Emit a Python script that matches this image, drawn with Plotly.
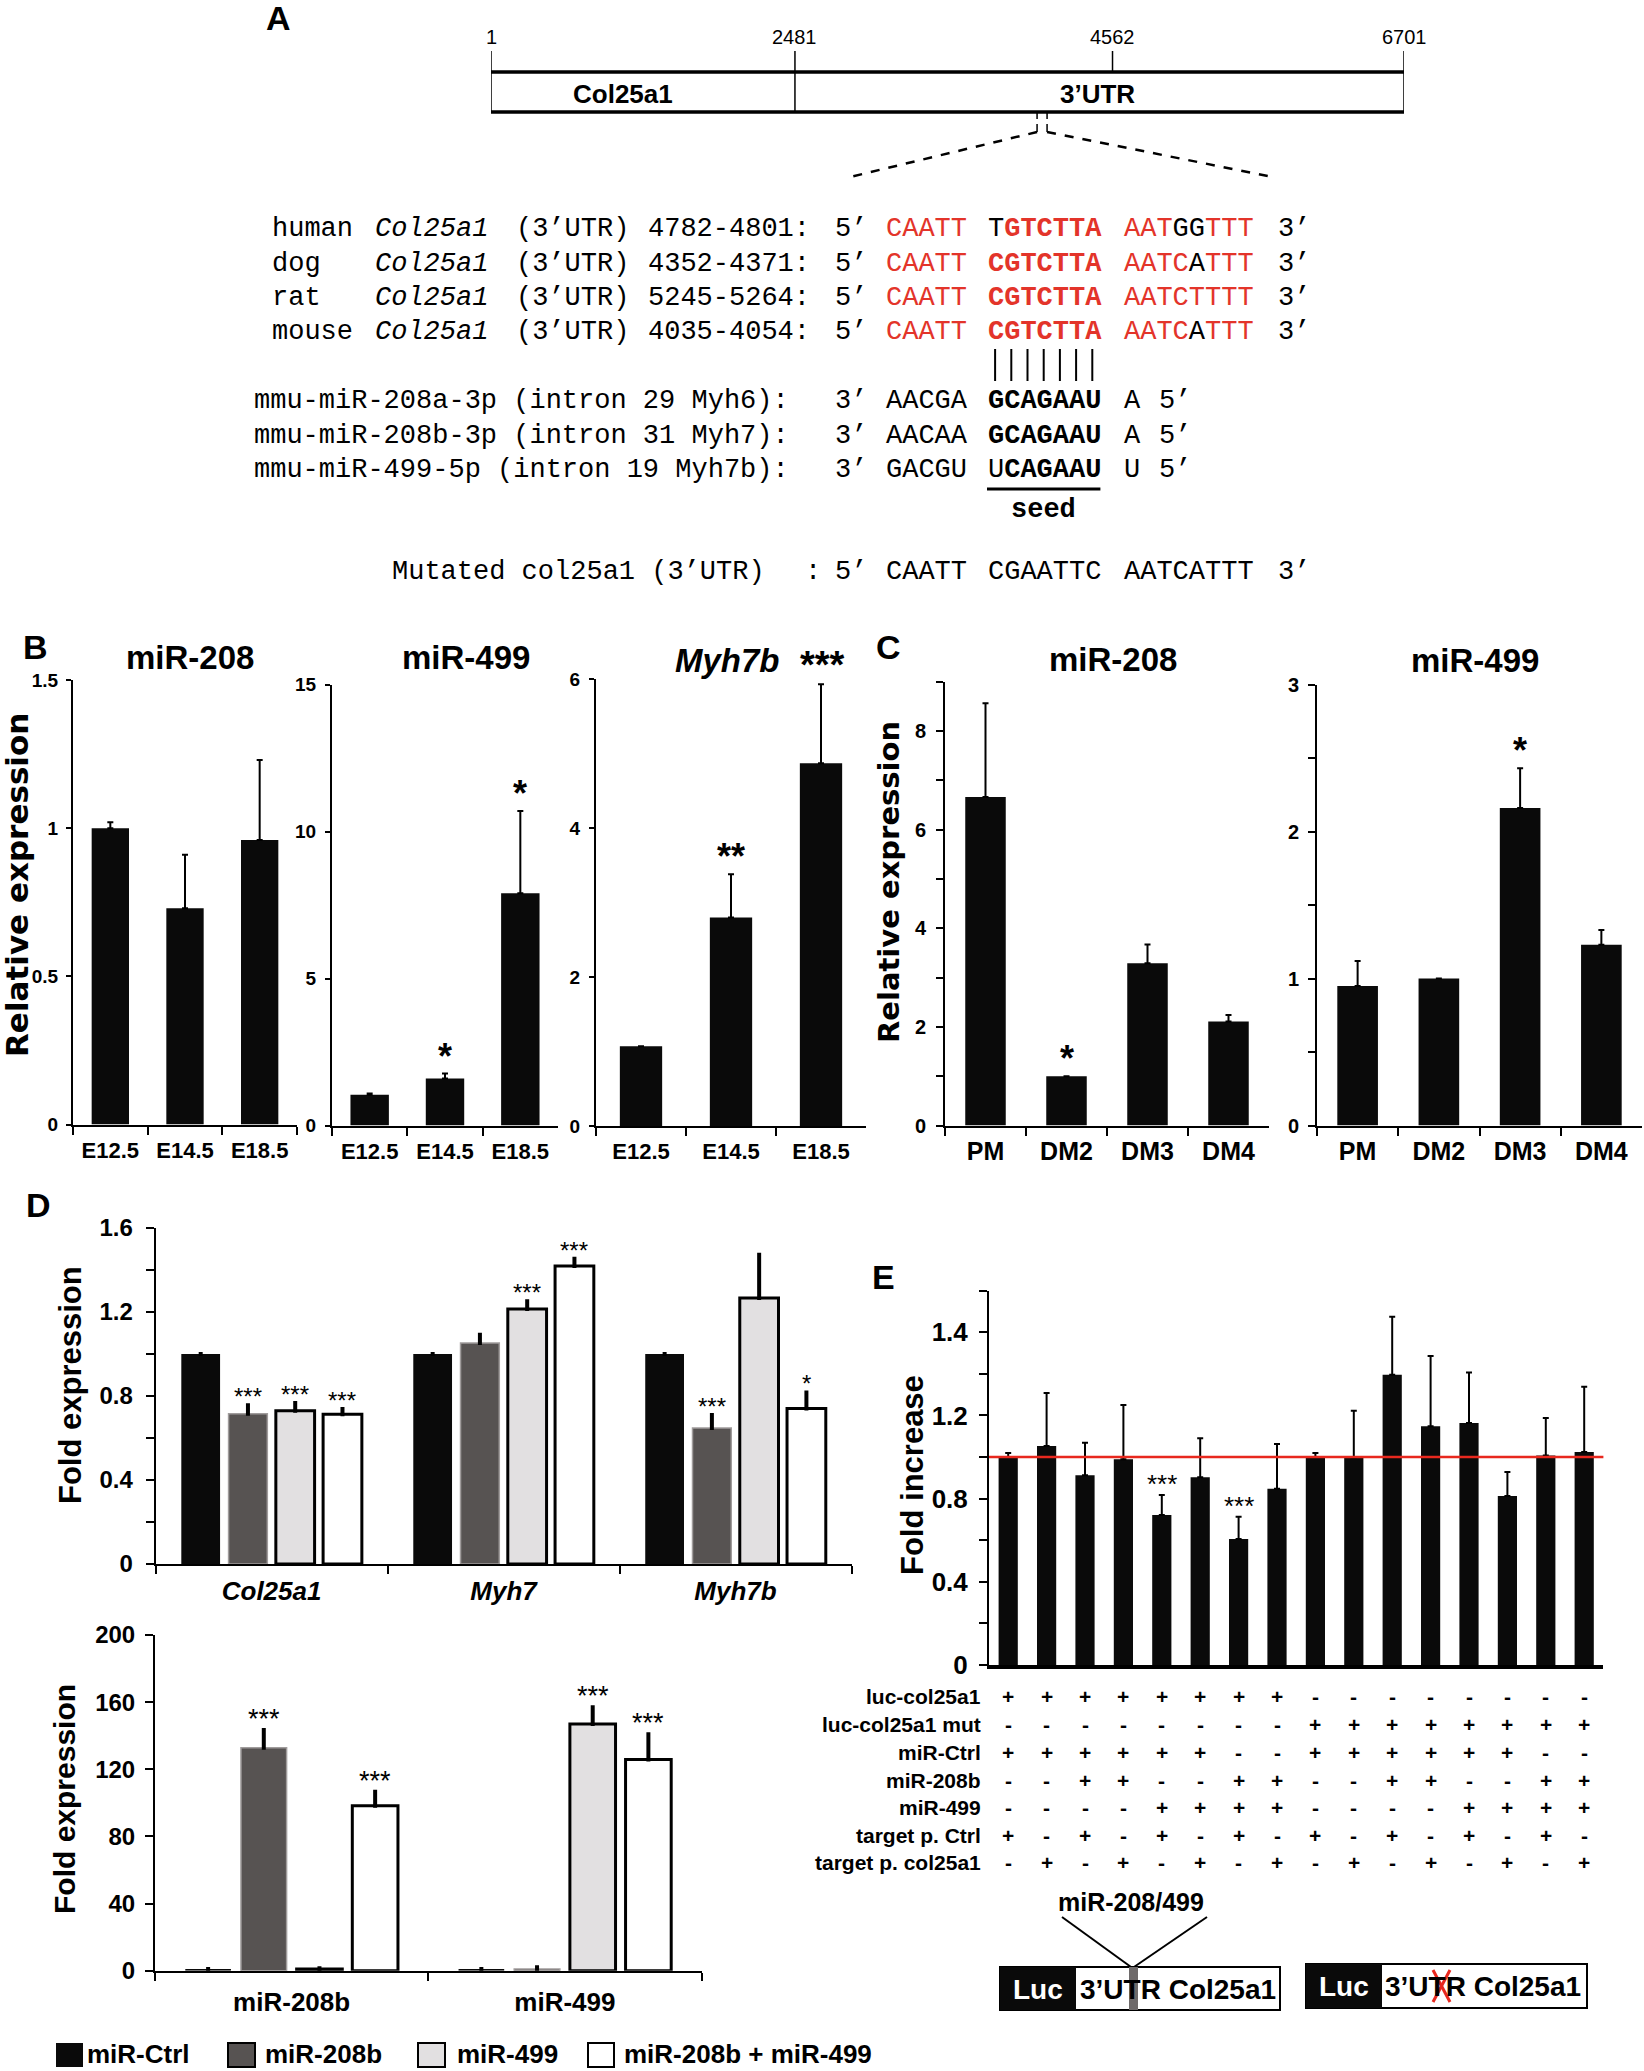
import plotly.graph_objects as go

W, H = 1644, 2071


def X(p):
    return p / W


def Y(p):
    return 1 - p / H


SANS = "Liberation Sans, Arial, Helvetica, sans-serif"
WIDE = "DejaVu Sans, Verdana, sans-serif"
MONO = "Liberation Mono, Courier New, monospace"
INK = "#0a0a0a"
RED = "#e3342a"

# ---------------- data ----------------
# Panel A
gene_ticks = [1, 2481, 4562, 6701]
region_names = ["Col25a1", "3’UTR"]
region_start = [1, 2481]
region_end = [2481, 6701]
site_bp = 4045

species = ["human", "dog", "rat", "mouse"]
species_gene = "Col25a1"
species_utr = "(3’UTR)"
species_range = ["4782-4801:", "4352-4371:", "5245-5264:", "4035-4054:"]
species_seq = [["CAATT", "TGTCTTA", "AATGGTTT"],
               ["CAATT", "CGTCTTA", "AATCATTT"],
               ["CAATT", "CGTCTTA", "AATCTTTT"],
               ["CAATT", "CGTCTTA", "AATCATTT"]]
species_conserved = [["11111", "0111111", "11100111"],
                     ["11111", "1111111", "11110111"],
                     ["11111", "1111111", "11111111"],
                     ["11111", "1111111", "11110111"]]
mirna_names = ["mmu-miR-208a-3p (intron 29 Myh6):",
               "mmu-miR-208b-3p (intron 31 Myh7):",
               "mmu-miR-499-5p (intron 19 Myh7b):"]
mirna_seq = [["AACGA", "GCAGAAU", "A"],
             ["AACAA", "GCAGAAU", "A"],
             ["GACGU", "UCAGAAU", "U"]]
mirna_seed = ["1111111", "1111111", "0111111"]
mutated_label = "Mutated col25a1 (3’UTR)"
mutated_seq = ["CAATT", "CGAATTC", "AATCATTT"]

# Panel B
b_stages = ["E12.5", "E14.5", "E18.5"]
b_mir208 = [1.0, 0.73, 0.96]
b_mir208_err = [0.02, 0.18, 0.27]
b_mir208_sig = ["", "", ""]
b_mir499 = [1.05, 1.6, 7.9]
b_mir499_err = [0.04, 0.17, 2.8]
b_mir499_sig = ["", "*", "*"]
b_myh7b = [1.07, 2.8, 4.87]
b_myh7b_err = [0.0, 0.58, 1.06]
b_myh7b_sig = ["", "**", ""]
b_myh7b_title_sig = "***"

# Panel C
c_stages = ["PM", "DM2", "DM3", "DM4"]
c_mir208 = [6.66, 1.0, 3.29, 2.11]
c_mir208_err = [1.9, 0.0, 0.38, 0.13]
c_mir208_sig = ["", "*", "", ""]
c_mir499 = [0.95, 1.0, 2.16, 1.23]
c_mir499_err = [0.17, 0.0, 0.27, 0.1]
c_mir499_sig = ["", "", "*", ""]

# Panel D
d_series = ["miR-Ctrl", "miR-208b", "miR-499", "miR-208b + miR-499"]
d_genes = ["Col25a1", "Myh7", "Myh7b"]
d_vals = [[1.0, 1.0, 1.0],
          [0.716, 1.052, 0.648],
          [0.73, 1.214, 1.267],
          [0.713, 1.419, 0.74]]
d_errs = [[0.0, 0.0, 0.0],
          [0.04, 0.04, 0.062],
          [0.037, 0.037, 0.206],
          [0.025, 0.035, 0.077]]
d_sig = [["", "", ""],
         ["***", "", "***"],
         ["***", "***", ""],
         ["***", "***", "*"]]
d2_targets = ["miR-208b", "miR-499"]
d2_vals = [[1.0, 1.0], [132.9, 1.0], [1.0, 147.0], [98.3, 125.9]]
d2_errs = [[0.0, 0.0], [10.5, 1.0], [0.5, 10.0], [8.3, 15.0]]
d2_sig = [["", ""], ["***", ""], ["", "***"], ["***", "***"]]

# Panel E
e_conditions = list(range(1, 17))
e_vals = [1.0, 1.053, 0.912, 0.99, 0.721, 0.903, 0.606, 0.848,
          1.0, 0.997, 1.396, 1.148, 1.164, 0.813, 1.008, 1.024]
e_errs = [0.02, 0.255, 0.157, 0.26, 0.096, 0.187, 0.107, 0.215,
          0.02, 0.226, 0.279, 0.338, 0.243, 0.115, 0.18, 0.314]
e_sig = ["", "", "", "", "***", "", "***", "", "", "", "", "", "", "", "", ""]
e_yticks = [0, 0.4, 0.8, 1.2, 1.6]
e_yticklabels = ["0", "0.4", "0.8", "1.2", "1.4"]
e_baseline = 1.0
e_rows = ["luc-col25a1", "luc-col25a1 mut", "miR-Ctrl", "miR-208b",
          "miR-499", "target p. Ctrl", "target p. col25a1"]
e_table = ["++++++++--------",
           "--------++++++++",
           "++++++--++++++--",
           "--++--++--++--++",
           "----++++----++++",
           "+-+-+-+-+-+-+-+-",
           "-+-+-+-+-+-+-+-+"]
e_site_label = "miR-208/499"
e_construct_parts = ["Luc", "3’UTR Col25a1"]

# ---------------- helpers ----------------
fig = go.Figure()
annos = []
shapes = []


def txt(x, y, s, size, family=SANS, bold=False, italic=False, color="black",
        xanchor="center", yanchor="middle", xref="paper", yref="paper",
        angle=0, xshift=0, yshift=0):
    font = dict(family=family, size=size, color=color)
    if bold:
        font["weight"] = "bold"
    if italic:
        font["style"] = "italic"
    annos.append(dict(
        x=X(x) if xref == "paper" else x,
        y=Y(y) if yref == "paper" else y,
        xref=xref, yref=yref, text=s, showarrow=False, font=font,
        xanchor=xanchor, yanchor=yanchor, textangle=angle,
        xshift=xshift, yshift=yshift, borderpad=0))


def line(x0, y0, x1, y1, width=2, color="black", dash="solid", xref="paper"):
    shapes.append(dict(type="line",
                       x0=X(x0) if xref == "paper" else x0,
                       x1=X(x1) if xref == "paper" else x1,
                       y0=Y(y0), y1=Y(y1), xref=xref, yref="paper",
                       line=dict(color=color, width=width, dash=dash)))


def vline_bp(bp, shift, y0, y1, width=1.5):
    shapes.append(dict(type="line", xref="x", xsizemode="pixel", xanchor=bp,
                       x0=shift, x1=shift, yref="paper", y0=Y(y0), y1=Y(y1),
                       line=dict(color="black", width=width)))


def rect(x0, y0, x1, y1, fill="white", lw=2, lc="black"):
    shapes.append(dict(type="rect", x0=X(x0), x1=X(x1), y0=Y(y1), y1=Y(y0),
                       xref="paper", yref="paper", fillcolor=fill,
                       line=dict(color=lc, width=lw)))


def render(token, mask, red=True, bold=False):
    parts = []
    i = 0
    while i < len(token):
        j = i
        while j < len(token) and mask[j] == mask[i]:
            j += 1
        seg = token[i:j]
        if mask[i] == "1":
            if bold:
                seg = "<b>" + seg + "</b>"
            if red:
                seg = "<span style='color:" + RED + "'>" + seg + "</span>"
        parts.append(seg)
        i = j
    return "".join(parts)


# ---------------- Panel A ----------------
A_X0, A_X1 = 491, 1404
schematic_shift = {2481: -34}
txt(278, 18, "A", 34, bold=True)
for t in gene_ticks:
    sh = schematic_shift.get(t, 0)
    vline_bp(t, sh, 51, 72)
    txt(t, 37, str(t), 20, xref="x", xshift=sh)
shapes.append(dict(type="rect", x0=gene_ticks[0], x1=gene_ticks[-1], y0=Y(112), y1=Y(72),
                   xref="x", yref="paper", line=dict(color="black", width=1.5)))
line(gene_ticks[0], 72, gene_ticks[-1], 72, width=3.5, xref="x")
line(gene_ticks[0], 112, gene_ticks[-1], 112, width=3.5, xref="x")
vline_bp(region_end[0], schematic_shift.get(region_end[0], 0), 72, 112)
region_shift = [-37, -19]
for nm, s0, s1, sh in zip(region_names, region_start, region_end, region_shift):
    txt((s0 + s1) / 2, 94, nm, 26, bold=True, xref="x", xshift=sh)

site_px = A_X0 + (site_bp - gene_ticks[0]) / (gene_ticks[-1] - gene_ticks[0]) * (A_X1 - A_X0)
for off in (-5, 5):
    line(site_px + off, 113, site_px + off, 119, width=1.5)
    line(site_px + off, 124, site_px + off, 132, width=1.5)
line(site_px - 5, 132, 850, 177, width=2.5, dash="dash")
line(site_px + 5, 132, 1273, 177, width=2.5, dash="dash")

SEQ = 27
CW = 0.6 * SEQ
sp_rows = [229, 264, 298, 332]
for k, yy in enumerate(sp_rows):
    txt(271, yy, species[k], SEQ, family=MONO, xanchor="left")
    txt(374, yy, "<i>" + species_gene + "</i>", SEQ, family=MONO, xanchor="left")
    txt(515, yy, species_utr, SEQ, family=MONO, xanchor="left")
    txt(647, yy, species_range[k], SEQ, family=MONO, xanchor="left")
    txt(834, yy, "5’", SEQ, family=MONO, xanchor="left")
    s1, s2, s3 = species_seq[k]
    m1, m2, m3 = species_conserved[k]
    txt(885, yy, render(s1, m1), SEQ, family=MONO, xanchor="left")
    txt(987, yy, render(s2, m2, bold=True), SEQ, family=MONO, xanchor="left")
    txt(1123, yy, render(s3, m3), SEQ, family=MONO, xanchor="left")
    txt(1277, yy, "3’", SEQ, family=MONO, xanchor="left")

for i in range(len(mirna_seq[0][1])):
    xx = 987 + CW * (i + 0.5)
    line(xx, 349, xx, 381, width=2)

mi_rows = [401, 436, 470]
for k, yy in enumerate(mi_rows):
    txt(253, yy, mirna_names[k], SEQ, family=MONO, xanchor="left")
    txt(834, yy, "3’", SEQ, family=MONO, xanchor="left")
    a, b, c = mirna_seq[k]
    txt(885, yy, a, SEQ, family=MONO, xanchor="left")
    txt(987, yy, render(b, mirna_seed[k], red=False, bold=True), SEQ, family=MONO, xanchor="left")
    txt(1123, yy, c, SEQ, family=MONO, xanchor="left")
    txt(1158, yy, "5’", SEQ, family=MONO, xanchor="left")
line(987, 489, 987 + CW * 7, 489, width=3)
txt(987 + CW * 3.5, 510, "<b>seed</b>", SEQ, family=MONO)

yy = 572
txt(391, yy, mutated_label, SEQ, family=MONO, xanchor="left")
txt(804, yy, ":", SEQ, family=MONO, xanchor="left")
txt(834, yy, "5’", SEQ, family=MONO, xanchor="left")
txt(885, yy, mutated_seq[0], SEQ, family=MONO, xanchor="left")
txt(987, yy, mutated_seq[1], SEQ, family=MONO, xanchor="left")
txt(1123, yy, mutated_seq[2], SEQ, family=MONO, xanchor="left")
txt(1277, yy, "3’", SEQ, family=MONO, xanchor="left")

# ---------------- axes helpers ----------------
layout_axes = {}


def tf(size, italic=False, family=SANS):
    d = dict(family=family, size=size, color="black", weight="bold")
    if italic:
        d["style"] = "italic"
    return d


def xcat(n, xdom, anchor, font, ticklen=9, standoff=4, lw=2, show=True):
    return dict(domain=[X(xdom[0]), X(xdom[1])], type="category", range=[-0.5, n - 0.5],
                anchor=anchor, showline=True, linecolor="black", linewidth=lw,
                ticks="outside" if show else "", tickson="boundaries", ticklen=ticklen,
                tickwidth=2, tickcolor="black", tickfont=font, showgrid=False,
                zeroline=False, fixedrange=True, ticklabelstandoff=standoff,
                showticklabels=show, automargin=False, tickangle=0)


def ylin(ydom, rng, tickvals, anchor, font, ticktext=None, minor=None,
         ticklen=7, standoff=6, lw=2):
    d = dict(domain=[Y(ydom[0]), Y(ydom[1])], range=rng, anchor=anchor, showline=True,
             linecolor="black", linewidth=lw, ticks="outside", ticklen=ticklen,
             tickwidth=2, tickcolor="black", tickmode="array", tickvals=tickvals,
             tickfont=font, showgrid=False, zeroline=False, fixedrange=True,
             ticklabelstandoff=standoff, automargin=False, tickangle=0)
    if ticktext is not None:
        d["ticktext"] = ticktext
    if minor:
        d["minor"] = dict(dtick=minor, tick0=0, ticks="outside", ticklen=ticklen,
                          tickwidth=2, tickcolor="black", showgrid=False)
    return d


def bar_panel(ax, cats, vals, errs, width, sig, sig_size=36, sig_bold=True,
              sig_shift=-4, err_th=2, err_w=4):
    fig.add_trace(go.Bar(
        x=cats, y=vals, width=width, xaxis="x" + ax, yaxis="y" + ax,
        marker=dict(color=INK, line=dict(width=0)),
        error_y=dict(type="data", array=errs, arrayminus=[0] * len(vals), symmetric=False,
                     color="black", thickness=err_th, width=err_w),
        showlegend=False, hoverinfo="skip"))
    for c, v, e, s in zip(cats, vals, errs, sig):
        if s:
            txt(c, v + e, s, sig_size, bold=sig_bold, xref="x" + ax, yref="y" + ax,
                yanchor="bottom", yshift=sig_shift)


# Panel A axis (bp scale)
layout_axes["xaxis"] = dict(domain=[X(A_X0), X(A_X1)], range=[gene_ticks[0], gene_ticks[-1]],
                            visible=False, fixedrange=True, anchor="y", automargin=False)
layout_axes["yaxis"] = dict(domain=[Y(112), Y(72)], range=[0, 1], visible=False,
                            fixedrange=True, anchor="x", automargin=False)

# ---------------- Panel B ----------------
txt(35, 647, "B", 34, bold=True)
txt(17, 885, "Relative expression", 31, family=WIDE, bold=True, angle=-90)
BX = tf(22)
BY = tf(19)
layout_axes["xaxis2"] = xcat(3, (73, 297), "y2", BX, ticklen=8, standoff=5)
layout_axes["yaxis2"] = ylin((1124.5, 680), [0, 1.5], [0, 0.5, 1, 1.5], "x2", BY, ticklen=5, standoff=4)
layout_axes["xaxis3"] = xcat(3, (332, 558), "y3", BX, ticklen=8, standoff=5)
layout_axes["yaxis3"] = ylin((1125.6, 684.5), [0, 15], [0, 5, 10, 15], "x3", BY, ticklen=5, standoff=5)
layout_axes["xaxis4"] = xcat(3, (596, 866), "y4", BX, ticklen=8, standoff=5)
layout_axes["yaxis4"] = ylin((1126, 679), [0, 6], [0, 2, 4, 6], "x4", BY, ticklen=5, standoff=5)
bar_panel("2", b_stages, b_mir208, b_mir208_err, 0.5, b_mir208_sig, err_w=3)
bar_panel("3", b_stages, b_mir499, b_mir499_err, 0.51, b_mir499_sig, err_w=3)
bar_panel("4", b_stages, b_myh7b, b_myh7b_err, 0.47, b_myh7b_sig, err_w=3)
txt(190, 658, "miR-208", 33, bold=True)
txt(466, 658, "miR-499", 33, bold=True)
txt(727, 660, "Myh7b", 33, bold=True, italic=True)
txt(822, 665, b_myh7b_title_sig, 38, bold=True)

# ---------------- Panel C ----------------
txt(888, 647, "C", 34, bold=True)
txt(889, 882, "Relative expression", 29, family=WIDE, bold=True, angle=-90)
CX = tf(25)
CY = tf(20)
layout_axes["xaxis5"] = xcat(4, (945, 1269), "y5", CX, ticklen=8, standoff=2)
layout_axes["yaxis5"] = ylin((1125.6, 681.6), [0, 9], [0, 2, 4, 6, 8], "x5", CY, minor=1,
                             ticklen=7, standoff=6)
layout_axes["xaxis6"] = xcat(4, (1317, 1642), "y6", CX, ticklen=8, standoff=2)
layout_axes["yaxis6"] = ylin((1125.6, 684.5), [0, 3], [0, 1, 2, 3], "x6", CY, minor=0.5,
                             ticklen=7, standoff=5)
bar_panel("5", c_stages, c_mir208, c_mir208_err, 0.5, c_mir208_sig, err_w=3)
bar_panel("6", c_stages, c_mir499, c_mir499_err, 0.5, c_mir499_sig, err_w=3)
txt(1113, 659, "miR-208", 33, bold=True)
txt(1475, 660, "miR-499", 33, bold=True)

# ---------------- Panel D ----------------
txt(38, 1205, "D", 34, bold=True)
txt(70, 1385, "Fold expression", 31, bold=True, angle=-90)
txt(64, 1799, "Fold expression", 30, bold=True, angle=-90)
d_colors = [INK, "#575352", "#e2e0e1", "#ffffff"]
d_line_colors = [INK, "#a09c9c", "black", "black"]
d_line_widths = [0, 1.5, 3, 3]
layout_axes["xaxis7"] = xcat(3, (155.6, 851.5), "y7", tf(26, italic=True), ticklen=8, standoff=3)
layout_axes["yaxis7"] = ylin((1564, 1228), [0, 1.6], [0, 0.4, 0.8, 1.2, 1.6], "x7", tf(24),
                             minor=0.2, ticklen=8, standoff=8)
layout_axes["xaxis8"] = xcat(2, (155, 701.5), "y8", tf(26), ticklen=8, standoff=7)
layout_axes["yaxis8"] = ylin((1970.7, 1635), [0, 200], [0, 40, 80, 120, 160, 200], "x8", tf(24),
                             ticklen=8, standoff=5)
for i, nm in enumerate(d_series):
    for ax, cats, vals, errs in (("7", d_genes, d_vals[i], d_errs[i]),
                                 ("8", d2_targets, d2_vals[i], d2_errs[i])):
        fig.add_trace(go.Bar(
            x=cats, y=vals, name=nm, offsetgroup=str(i), xaxis="x" + ax, yaxis="y" + ax,
            marker=dict(color=d_colors[i], line=dict(color=d_line_colors[i], width=d_line_widths[i])),
            error_y=dict(type="data", array=errs, arrayminus=[0] * len(vals), symmetric=False,
                         color="black", thickness=4, width=2),
            showlegend=False, hoverinfo="skip"))
# star annotations for grouped bars
BARGAP = 0.185
slot = (1 - BARGAP) / 4
for i in range(4):
    off = -(1 - BARGAP) / 2 + slot * (i + 0.5)
    for ax, vals, errs, sigs, ssz, ysh in (("7", d_vals[i], d_errs[i], d_sig[i], 24, -6),
                                           ("8", d2_vals[i], d2_errs[i], d2_sig[i], 27, -5)):
        for j, (v, e, s) in enumerate(zip(vals, errs, sigs)):
            if s:
                txt(j + off, v + e, s, ssz, xref="x" + ax, yref="y" + ax,
                    yanchor="bottom", yshift=ysh)

# legend (drawn)
leg_sq = [(56, 83), (228, 255), (418, 445), (588, 614)]
leg_tx = [86, 264, 456, 623]
for i, nm in enumerate(d_series):
    x0, x1 = leg_sq[i]
    rect(x0, 2043, x1, 2067, fill=d_colors[i], lw=0 if i == 0 else 2)
    txt(leg_tx[i], 2054, nm, 26, bold=True, xanchor="left")

# ---------------- Panel E ----------------
txt(883, 1277, "E", 34, bold=True)
txt(912, 1475, "Fold increase", 31, bold=True, angle=-90)
layout_axes["xaxis9"] = dict(domain=[X(989), X(1603.4)], range=[0.5, 16.5], anchor="y9",
                             showline=True, linecolor="black", linewidth=4, ticks="",
                             showticklabels=False, showgrid=False, zeroline=False,
                             fixedrange=True, automargin=False)
layout_axes["yaxis9"] = ylin((1665, 1290.7), [0, 1.8], e_yticks, "x9", tf(26),
                             ticktext=e_yticklabels, minor=0.2, ticklen=8, standoff=6)
fig.add_trace(go.Bar(
    x=e_conditions, y=e_vals, width=0.5, xaxis="x9", yaxis="y9",
    marker=dict(color=INK, line=dict(width=0)),
    error_y=dict(type="data", array=e_errs, arrayminus=[0] * len(e_vals), symmetric=False,
                 color="black", thickness=2, width=3),
    showlegend=False, hoverinfo="skip"))
for c, v, e, s in zip(e_conditions, e_vals, e_errs, e_sig):
    if s:
        txt(c, v + e, s, 26, xref="x9", yref="y9", yanchor="bottom", yshift=-5)
shapes.append(dict(type="line", xref="x9 domain", yref="y9", x0=0, x1=1,
                   y0=e_baseline, y1=e_baseline, line=dict(color="#e8281e", width=2.5)))

row_y = [1696.5, 1724.5, 1752.5, 1780, 1807.5, 1835, 1862.5]
for r, (lab, signs) in enumerate(zip(e_rows, e_table)):
    txt(982, row_y[r], lab, 21, bold=True, xanchor="right")
    for c, sgn in zip(e_conditions, signs):
        txt(c, row_y[r], sgn, 21, bold=True, xref="x9")

# constructs
txt(1131, 1902, e_site_label, 25, bold=True)
line(1062, 1917, 1131, 1967, width=2)
line(1207, 1917, 1134, 1967, width=2)
rect(1000, 1967, 1280, 2010, fill="white", lw=2)
rect(1000, 1967, 1076, 2010, fill=INK, lw=0)
rect(1129, 1967, 1138, 2010, fill="#6e6a6a", lw=0)
txt(1038, 1989, e_construct_parts[0], 28, bold=True, color="white")
txt(1178, 1989, e_construct_parts[1], 28, bold=True)
rect(1306, 1964, 1587, 2008, fill="white", lw=2)
rect(1306, 1964, 1382, 2008, fill=INK, lw=0)
txt(1344, 1986, e_construct_parts[0], 28, bold=True, color="white")
txt(1483, 1986, e_construct_parts[1], 28, bold=True)
line(1433, 1970, 1450, 2002, width=3, color="#e8281e")
line(1450, 1970, 1433, 2002, width=3, color="#e8281e")

fig.update_layout(
    template="none",
    width=W, height=H, margin=dict(l=0, r=0, t=0, b=0, pad=0), autosize=False,
    paper_bgcolor="white", plot_bgcolor="rgba(0,0,0,0)",
    barmode="group", bargap=BARGAP, bargroupgap=0.18, showlegend=False,
    font=dict(family=SANS, color="black"),
    annotations=annos, shapes=shapes, **layout_axes)

fig.write_html("out.html", config={"displayModeBar": False, "staticPlot": True},
               post_script="document.body.style.margin='0';document.body.style.overflow='hidden';")
